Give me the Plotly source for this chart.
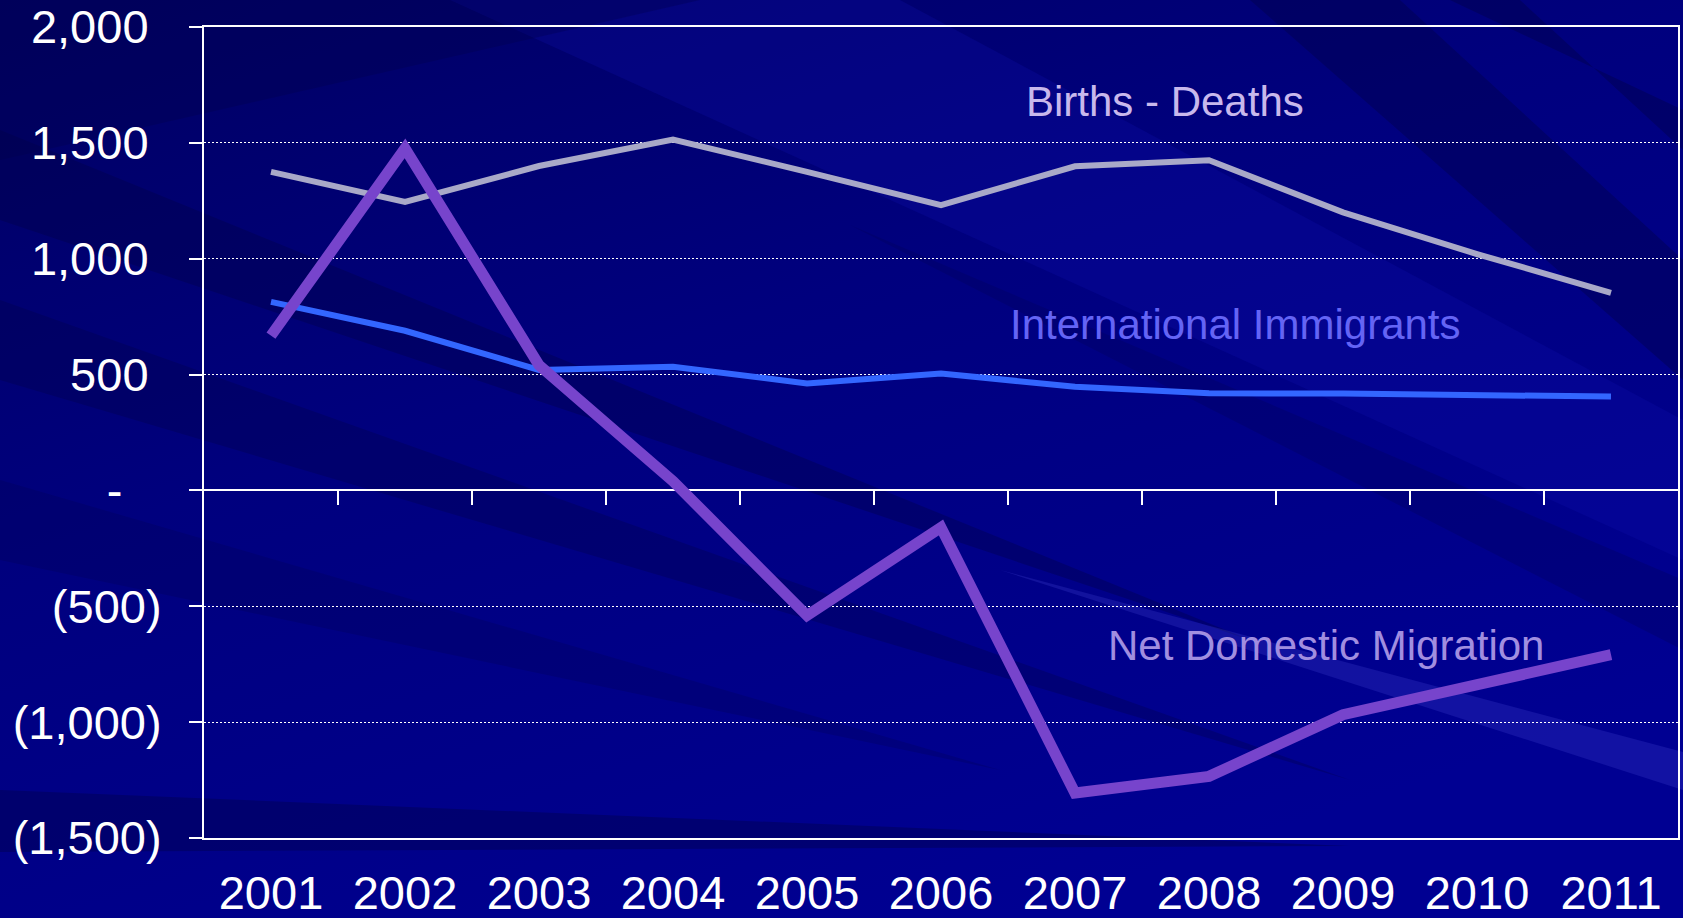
import base64
import plotly.graph_objects as go

years = [2001, 2002, 2003, 2004, 2005, 2006, 2007, 2008, 2009, 2010, 2011]
births_minus_deaths = [1375, 1245, 1400, 1514, 1375, 1231, 1399, 1425, 1200, 1020, 853]
international_immigrants = [814, 689, 520, 534, 462, 505, 447, 419, 418, 412, 405]
net_domestic_migration = [668, 1476, 541, 40, -540, -160, -1306, -1234, -968, -838, -709]

y_tick_vals = [2000, 1500, 1000, 500, 0, -500, -1000, -1500]
y_tick_text = ["2,000\u00a0", "1,500\u00a0", "1,000\u00a0", "500\u00a0", "-\u00a0\u00a0\u00a0",
               "(500)", "(1,000)", "(1,500)"]
x_tick_text = [str(y) for y in years]

W, H = 1683, 918
L, R, T, B = 204, 5, 27, 80
pw, ph = W - L - R, H - T - B

# decorative background (dark navy with diagonal streaks)
bg = f'''<svg xmlns="http://www.w3.org/2000/svg" width="{W}" height="{H}" viewBox="0 0 {W} {H}">
<defs><linearGradient id="g" x1="0" y1="0" x2="0.6" y2="1">
<stop offset="0" stop-color="#000062"/><stop offset="0.45" stop-color="#00007E"/><stop offset="1" stop-color="#000092"/>
</linearGradient></defs>
<rect width="{W}" height="{H}" fill="url(#g)"/>
<polygon points="450,0 900,0 1683,420 1683,560" fill="#1010B0" opacity="0.25"/>
<polygon points="0,130 0,220 1250,640" fill="#000045" opacity="0.35"/>
<polygon points="0,300 0,380 1350,780" fill="#000045" opacity="0.3"/>
<polygon points="0,480 0,560 1000,770" fill="#000050" opacity="0.25"/>
<polygon points="1250,0 1400,0 1683,260 1683,380" fill="#000048" opacity="0.4"/>
<polygon points="1450,0 1520,0 1683,150 1683,110" fill="#000040" opacity="0.35"/>
<polygon points="850,225 1683,580 1683,650" fill="#00005A" opacity="0.3"/>
<polygon points="1000,570 1683,752 1683,790" fill="#4040D0" opacity="0.28"/>
<polygon points="0,790 0,852 1350,846" fill="#000050" opacity="0.45"/>
<polygon points="0,0 700,0 0,160" fill="#000048" opacity="0.3"/>
</svg>'''
bg_uri = "data:image/svg+xml;base64," + base64.b64encode(bg.encode()).decode()

fig = go.Figure()
fig.add_trace(go.Scatter(x=years, y=births_minus_deaths, mode="lines",
                         line=dict(color="#A9A9C8", width=6), name="Births - Deaths",
                         hoverinfo="skip"))
fig.add_trace(go.Scatter(x=years, y=international_immigrants, mode="lines",
                         line=dict(color="#3366FF", width=6), name="International Immigrants",
                         hoverinfo="skip"))
fig.add_trace(go.Scatter(x=years, y=net_domestic_migration, mode="lines",
                         line=dict(color="#7744CC", width=11), name="Net Domestic Migration",
                         hoverinfo="skip"))
# invisible helper trace so the zero-line category axis is drawn
fig.add_trace(go.Scatter(x=years, y=[0] * len(years), xaxis="x2", mode="lines",
                         line=dict(width=0), opacity=0, showlegend=False, hoverinfo="skip"))

font_family = "Liberation Sans, Arial, sans-serif"

fig.update_layout(
    width=W, height=H,
    margin=dict(l=L, r=R, t=T, b=B, pad=0, autoexpand=False),
    paper_bgcolor="#000080",
    plot_bgcolor="rgba(0,0,0,0)",
    showlegend=False,
    font=dict(family=font_family, color="white"),
    images=[dict(source=bg_uri, xref="paper", yref="paper",
                 x=-L / pw, y=1 + T / ph, sizex=W / pw, sizey=H / ph,
                 sizing="stretch", xanchor="left", yanchor="top", layer="below")],
    xaxis=dict(range=[years[0] - 0.5, years[-1] + 0.5], tickmode="array",
               tickvals=years, ticktext=x_tick_text, ticks="", showgrid=False,
               zeroline=False, showline=True, mirror=True, linecolor="white", linewidth=2,
               tickfont=dict(size=47, color="white", family=font_family),
               ticklabelstandoff=13, automargin=False),
    xaxis2=dict(overlaying="x", anchor="free", position=1500 / 3500,
                range=[years[0] - 0.5, years[-1] + 0.5], tickmode="array",
                tickvals=[y + 0.5 for y in years[:-1]], ticks="outside", ticklen=14,
                tickwidth=2, tickcolor="white", showticklabels=False, showgrid=False,
                zeroline=False, showline=True, linecolor="white", linewidth=2,
                layer="below traces", automargin=False),
    yaxis=dict(range=[-1500, 2000], tickmode="array", tickvals=y_tick_vals,
               ticktext=y_tick_text, ticks="outside", ticklen=13, tickwidth=2,
               tickcolor="white", showgrid=True, gridcolor="white", gridwidth=1,
               griddash="2px,2px", zeroline=False, showline=True, mirror=True,
               linecolor="white", linewidth=2,
               tickfont=dict(size=47, color="white", family=font_family),
               ticklabelstandoff=18, automargin=False),
    annotations=[
        dict(text="Births - Deaths", x=2007.67, y=1677, xref="x", yref="y",
             showarrow=False, xanchor="center", yanchor="middle",
             font=dict(size=42, color="#C8B8EC", family=font_family)),
        dict(text="International Immigrants", x=2008.2, y=714, xref="x", yref="y",
             showarrow=False, xanchor="center", yanchor="middle",
             font=dict(size=42, color="#6464F5", family=font_family)),
        dict(text="Net Domestic Migration", x=2008.87, y=-671, xref="x", yref="y",
             showarrow=False, xanchor="center", yanchor="middle",
             font=dict(size=42, color="#A18EE0", family=font_family)),
    ],
)

fig.write_html("out.html", config={"displayModeBar": False},
               post_script="document.body.style.margin='0';document.body.style.overflow='hidden';")
